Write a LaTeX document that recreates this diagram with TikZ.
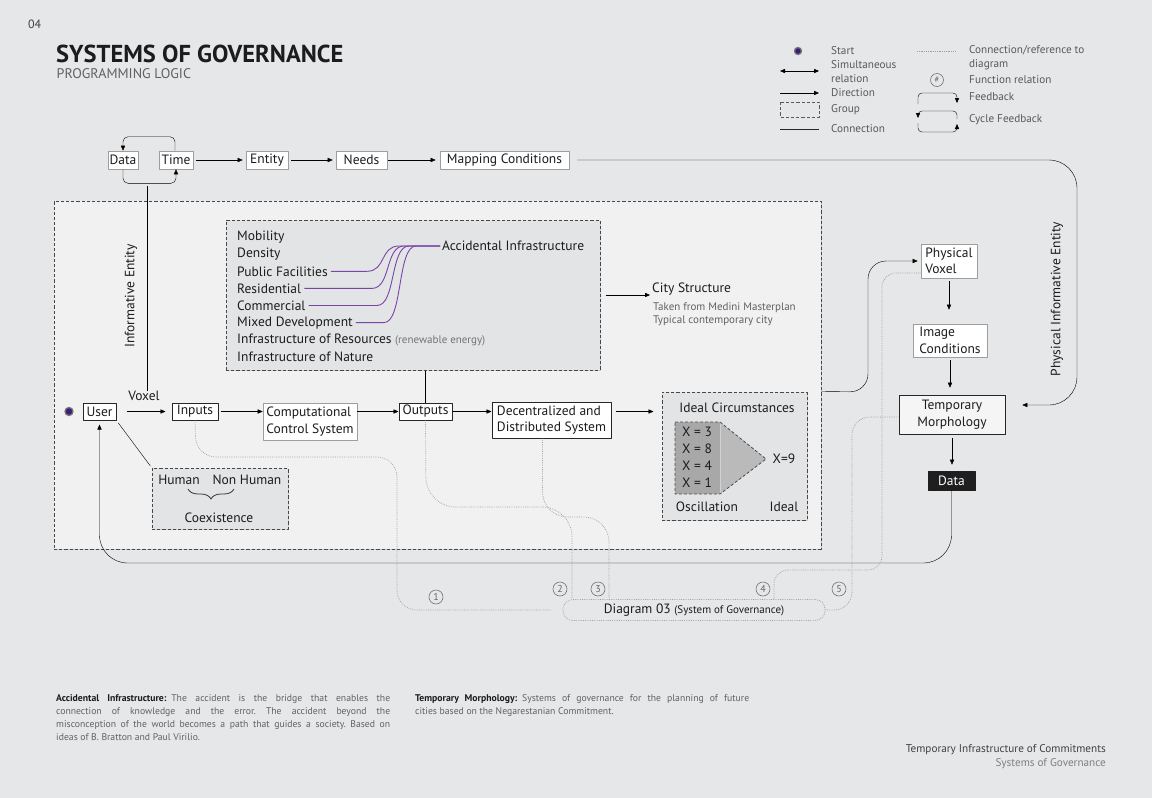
\documentclass[tikz,border=0pt]{standalone}
\usepackage{fontspec}
\setmainfont{PT Sans}
\usetikzlibrary{arrows.meta,shadows,decorations.pathreplacing}
\definecolor{paper}{HTML}{E6E7E9}
\definecolor{panel}{HTML}{F1F1F2}
\definecolor{grpfill}{HTML}{E3E4E6}
\definecolor{ink}{HTML}{1C1C1C}
\definecolor{accpurple}{HTML}{7B45A8}
\definecolor{startpurple}{HTML}{3B1C7A}
\def\fsz#1#2{\fontsize{#1}{#2}\selectfont}

\begin{document}
\begin{tikzpicture}[x=1pt, y=-1pt, line join=round,
		tip/.style={-{Triangle[length=5pt,width=4.2pt]}},
		tips/.style={{Triangle[length=5pt,width=4.2pt]}-{Triangle[length=5pt,width=4.2pt]}},
		shade/.style={drop shadow={shadow xshift=1.2pt,shadow yshift=-1.2pt,opacity=0.3}},
		box/.style={shade, draw=black!38, line width=0.6pt, fill=white, text=ink, font=\fsz{13.5}{16.5}, inner sep=1.5pt, minimum height=18pt},
		darkbox/.style={box, draw=black!85, line width=1pt},
		grp/.style={shade, draw=black!72, line width=1pt, dash pattern=on 3.2pt off 2pt, fill=grpfill, inner sep=0pt},
		lbl/.style={text=ink, font=\fsz{13.5}{15}, inner sep=0pt},
		note/.style={text=black!62, font=\fsz{11}{12}, inner sep=0pt},
		legend/.style={text=black!65, font=\fsz{11.2}{13.5}, inner sep=0pt, anchor=west, align=left},
		purp/.style={draw=accpurple, line width=0.9pt},
		ref/.style={draw=black!38, line width=0.7pt, dash pattern=on 0.7pt off 1.1pt, rounded corners=20pt},
		num/.style={circle, draw=black!55, line width=0.6pt, inner sep=0pt, minimum size=14pt, text=black!60, font=\fsz{10}{10}},
		startdot/.style={circle, fill=startpurple, draw=black!55, line width=1.3pt, inner sep=0pt, minimum size=8pt},
		para/.style={anchor=north west, inner sep=0pt, text width=334pt, align=justify, text=black!62, font=\fsz{9.7}{13}\frenchspacing}]
			%%%%% START %%%%%
			
			\fill[paper] (0,0) rectangle (1152,798);
			\useasboundingbox (0,0) rectangle (1152,798);
			
			\node[anchor=west, inner sep=0pt, text=black!75, font=\fsz{12}{12}] (pagenum) at (28,24) {04};
			\node[anchor=west, inner sep=0pt, text=ink, font=\fsz{24.5}{25}\bfseries] (title) at (56,54) {SYSTEMS OF GOVERNANCE};
			\node[anchor=west, inner sep=0pt, text=black!62, font=\fsz{14}{14}] (subtitle) at (56.5,74) {PROGRAMMING LOGIC};
			
			% legend
			\node[startdot, minimum size=7pt] (lgstart) at (798,51) {};
			\node[legend] (lg1) at (831,51) {Start};
			\draw[tips] (780,71) -- (819,71);
			\node[legend] (lg2) at (831,71.5) {Simultaneous\\relation};
			\draw[tip] (780,93) -- (819,93);
			\node[legend] (lg3) at (831,93) {Direction};
			\draw[black!65, line width=0.9pt, dash pattern=on 3.2pt off 2pt] (780,102) rectangle (819,117);
			\node[legend] (lg4) at (831,110) {Group};
			\draw[black!85] (780,129) -- (819,129);
			\node[legend] (lg5) at (831,129) {Connection};
			\draw[ref] (917,51) -- (956,51);
			\node[legend] (lg6) at (969,57.5) {Connection/reference to\\diagram};
			\node[num, minimum size=13pt, font=\fsz{8.5}{8.5}] (lghash) at (937,80) {\#};
			\node[legend] (lg7) at (969,80) {Function relation};
			\draw[tip, rounded corners=4pt] (918,104) -- (918,93) -- (957,93) -- (957,103);
			\node[legend] (lg8) at (969,97) {Feedback};
			\draw[tip, rounded corners=4pt] (957,119) -- (957,111) -- (918,111) -- (918,118);
			\draw[tip, rounded corners=4pt] (918,123) -- (918,132) -- (957,132) -- (957,124);
			\node[legend] (lg9) at (969,120) {Cycle Feedback};
			
			% groups
			\node[grp, fill=panel, minimum width=767pt, minimum height=348pt] (big) at (437.5,375) {};
			\node[grp, minimum width=374pt, minimum height=150pt] (lst) at (413,295) {};
			\node[grp, minimum width=136pt, minimum height=61pt] (hum) at (220,498.5) {};
			\node[grp, minimum width=145pt, minimum height=128pt] (ideal) at (734.5,456) {};
			
			% top row
			\node[box, minimum width=30pt] (data) at (123,160) {Data};
			\node[box, minimum width=34pt] (time) at (176,160) {Time};
			\node[box, minimum width=42pt] (entity) at (267,160) {Entity};
			\node[box, minimum width=51pt] (needs) at (361.5,160) {Needs};
			\node[box, minimum width=129pt] (map) at (504.5,160) {Mapping Conditions};
			\draw[tip, rounded corners=5pt] ([xshift=-1pt]time.north) -- ++(0,-14) -| (data.north);
			\draw[tip, rounded corners=5pt] (data.south) -- ++(0,14) -| (time.south);
			\draw[tip, shorten <=3pt, shorten >=3pt] (time) -- (entity);
			\draw[tip, shorten <=3pt, shorten >=3pt] (entity) -- (needs);
			\draw[tip, shorten <=1pt, shorten >=4pt] (needs) -- (map);
			
			\coordinate (ietop) at (147,186);
			\coordinate (iebot) at (147,391);
			\draw (ietop) -- (iebot);
			\node[lbl, rotate=90] (infent) at (131,296) {Informative Entity};
			
			% list
			\foreach \t [count=\i] in {Mobility, Density, Public Facilities, Residential, Commercial, Mixed Development, {Infrastructure of Resources {\fsz{11}{12}\color{black!55}(renewable energy)}}, Infrastructure of Nature}
				\node[lbl, anchor=west] (it\i) at (237,220+17.1*\i) {\t};
			\node[lbl, anchor=west] (accid) at (442,246) {Accidental Infrastructure};
			\foreach \i/\xv in {3/383,4/388,5/393,6/400}
				\draw[purp, shorten <=3pt] (it\i.east) -- ([xshift=-16pt]\xv,0 |- it\i.east) .. controls ([xshift=3pt]\xv,0 |- it\i.east) and ([xshift=-3pt]\xv,0 |- accid.west) .. ([xshift=16pt]\xv,0 |- accid.west) -- ([xshift=-2pt]accid.west);
			
			\node[lbl, anchor=west] (city) at (652,289) {City Structure};
			\node[note, anchor=west] (cityn1) at (653,308) {Taken from Medini Masterplan};
			\node[note, anchor=west] (cityn2) at (653,321) {Typical contemporary city};
			\draw[tip, shorten <=5pt, shorten >=2pt] (lst.east) -- (city.west |- lst.east);
			
			% main row
			\node[startdot] (start) at (69,411.5) {};
			\node[darkbox, minimum width=33pt, minimum height=17pt] (user) at (99.5,411.5) {User};
			\node[darkbox, minimum width=46pt, minimum height=17pt] (inp) at (195,411.5) {Inputs};
			\node[box, minimum width=94pt, minimum height=37pt, align=left] (ccs) at (310,421.5) {Computational\\Control System};
			\node[darkbox, minimum width=53pt, minimum height=17pt] (outp) at (425.5,411.5) {Outputs};
			\node[darkbox, minimum width=119pt, minimum height=36pt, align=left] (dec) at (551.5,420) {Decentralized and\\Distributed System};
			\node[lbl] (voxel) at (144,396) {Voxel};
			\draw[tip, shorten <=10pt, shorten >=6pt] (user) -- (inp);
			\draw[tip, shorten <=2pt] (inp.east) -- (ccs.west |- inp.east);
			\draw[tip] (ccs.east |- outp.west) -- (outp.west);
			\draw[tip] (outp.east) -- (dec.west |- outp.east);
			\draw[tip, shorten <=4pt, shorten >=8pt] (dec.east |- outp.east) -- (ideal.west |- outp.east);
			\draw (lst.south -| outp.north) -- (outp.north);
			\draw[shorten <=3pt, shorten >=2pt] (user.south east) -- (hum.north west);
			
			% coexistence
			\node[lbl] (human) at (179,480) {Human};
			\node[lbl] (nonhuman) at (247,480) {Non Human};
			\draw[black!80, line width=0.8pt, decorate, decoration={brace, mirror, amplitude=10pt}] (188,489) -- (234,489);
			\node[lbl] (coex) at (219,518) {Coexistence};
			
			% ideal circumstances
			\node[lbl] (idealt) at (737,408) {Ideal Circumstances};
			\fill[black!34] (675,422) rectangle (720,494);
			\fill[black!27] (720,422) -- (766,459) -- (720,494) -- cycle;
			\draw[black!18] (720,422) -- (720,494);
			\draw[black!70, line width=0.8pt, dash pattern=on 3pt off 2pt] (675,422) -- (720,422) -- (766,459) -- (720,494) -- (675,494) -- cycle;
			\foreach \v [count=\i] in {3,8,4,1}
				\node[lbl] (osc\i) at (697,414.5+17*\i) {X = \v};
			\node[lbl] (xnine) at (784,459) {X=9};
			\node[lbl] (oscl) at (707,507) {Oscillation};
			\node[lbl] (idl) at (784,507) {Ideal};
			
			% right column
			\node[box, minimum width=56pt, minimum height=34pt, align=left] (pvox) at (949,261) {Physical\\Voxel};
			\node[box, minimum width=74pt, minimum height=33pt, align=left] (imgc) at (950,340.5) {Image\\Conditions};
			\node[box, draw=black!85, fill=black!4, minimum width=106pt, minimum height=39pt, align=center] (tmorph) at (952,414.5) {Temporary\\Morphology};
			\node[box, draw=black!88, fill=black!88, text=white, minimum width=47pt, minimum height=19pt] (dout) at (951.5,480.5) {Data};
			\draw[tip, shorten <=3pt, shorten >=14pt] (pvox.south) -- (pvox.south |- imgc.north);
			\draw[tip, shorten <=3pt, shorten >=7pt] (imgc.south) -- (imgc.south |- tmorph.north);
			\draw[tip, shorten <=4pt, shorten >=6pt] (tmorph.south) -- (tmorph.south |- dout.north);
			\draw[tip, rounded corners=18pt, shorten >=3pt] (big.east |- ideal.north) -- (868,392) -- (868,0 |- pvox.west) -- (pvox.west);
			\draw[tip, rounded corners=28pt, shorten <=8pt, shorten >=17pt] (map.east) -- (1077,160) -- (1077,405) -- (tmorph.east |- 0,405);
			\node[lbl, rotate=90] (pie) at (1057,299) {Physical Informative Entity};
			\draw[tip, rounded corners=28pt, shorten >=4pt] (dout.south) -- (dout.south |- 0,563) -- (user.south |- 0,563) -- (user.south);
			
			% references to diagram 03
			\node[draw=black!38, line width=0.7pt, dash pattern=on 0.7pt off 1.1pt, rounded corners=10pt, minimum width=262pt, minimum height=21pt, inner sep=0pt, text=ink, font=\fsz{13.5}{14}] (dia) at (694,610) {Diagram 03 {\fsz{11}{12}(System of Governance)}};
			\draw[ref] (inp.south) -- (196,457) -- (397,457) -- (397,0 |- dia.west) -- ([xshift=-11pt]dia.west);
			\draw[ref, rounded corners=30pt] (outp.south) -- (426,507) -- (572,507) -- (572,0 |- dia.north);
			\draw[ref, rounded corners=25pt] ([xshift=-9pt]dec.south) -- (542.5,517) -- (609,517) -- (609,0 |- dia.north);
			\draw[ref, rounded corners=14pt] (774,0 |- dia.north) -- (774,570) -- (882,570) -- (882,273) -- (pvox.west |- 0,273);
			\draw[ref, rounded corners=18pt] (dia.east) -- (852,0 |- dia.east) -- (852,417) -- (tmorph.west |- 0,417);
			\foreach \n/\x/\y in {1/436/597, 2/560/589, 3/598/589, 4/763/589, 5/839/589}
				\node[num] (n\n) at (\x,\y) {\n};
			
			% notes
			\node[para] (defacc) at (56,694) {{\color{ink}\bfseries Accidental Infrastructure:}\enspace The accident is the bridge that enables the\linebreak connection of knowledge and the error. The accident beyond the\linebreak misconception of the world becomes a path that guides a society. Based on\linebreak ideas of B. Bratton and Paul Virilio.};
			\node[para] (deftmp) at (415,694) {{\color{ink}\bfseries Temporary Morphology:}\enspace Systems of governance for the planning of future\linebreak cities based on the Negarestanian Commitment.};
			\node[anchor=east, inner sep=0pt, text=black!75, font=\fsz{11.2}{12}] (foot1) at (1106,750) {Temporary Infrastructure of Commitments};
			\node[anchor=east, inner sep=0pt, text=black!50, font=\fsz{11.2}{12}] (foot2) at (1106,764) {Systems of Governance};
			
			%%%%% END %%%%%
\end{tikzpicture}
\end{document}
